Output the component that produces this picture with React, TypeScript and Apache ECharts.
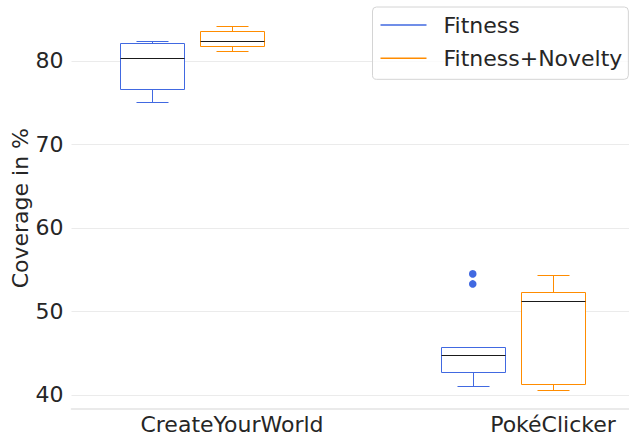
import React, { useEffect, useRef } from "react";
import * as echarts from "echarts";

const categories = ["CreateYourWorld", "PokéClicker"];
const seriesNames = ["Fitness", "Fitness+Novelty"];
// [lowerWhisker, Q1, median, Q3, upperWhisker] per category
const fitnessStats = [
  [75.1, 76.65, 80.3, 82.1, 82.36],
  [41.1, 42.8, 44.8, 45.8, 45.8],
];
const noveltyStats = [
  [81.2, 81.8, 82.4, 83.6, 84.2],
  [40.55, 41.35, 51.2, 52.3, 54.4],
];
const fitnessOutliers = [[], [54.5, 53.3]];
const noveltyOutliers: number[][] = [[], []];
const yTicks = [40, 50, 60, 70, 80];

const COLORS = ["#4169E1", "#FF8C00"];
const HUE_OFFSET = [-0.25, 0];
const BOX_WIDTH = 0.2;
const FONT = "DejaVu Sans";
const TEXT = "#262626";
const FS = 22;

const px = (v: number) => Math.round(v) + 0.5;

function makeBoxRender(hue: number) {
  return (params: any, api: any) => {
    const cat = api.value(0);
    const band = api.size([1, 0])[0];
    const cx = api.coord([cat, 0])[0] + HUE_OFFSET[hue] * band;
    const half = (BOX_WIDTH * band) / 2;
    const capHalf = half / 2;
    const ys = [1, 2, 3, 4, 5].map((i) => px(api.coord([cat, api.value(i)])[1]));
    const color = COLORS[hue];
    const l = px(cx - half);
    const r = px(cx + half);
    const c = px(cx);
    const ls = { stroke: color, lineWidth: 1, fill: "none" };
    return {
      type: "group",
      children: [
        { type: "line", shape: { x1: c, y1: ys[3], x2: c, y2: ys[4] }, style: ls },
        { type: "line", shape: { x1: c, y1: ys[1], x2: c, y2: ys[0] }, style: ls },
        { type: "line", shape: { x1: px(cx - capHalf), y1: ys[4], x2: px(cx + capHalf), y2: ys[4] }, style: ls },
        { type: "line", shape: { x1: px(cx - capHalf), y1: ys[0], x2: px(cx + capHalf), y2: ys[0] }, style: ls },
        { type: "rect", shape: { x: l, y: ys[3], width: r - l, height: ys[1] - ys[3] }, style: { ...ls, fill: "#fff" } },
        { type: "line", shape: { x1: l, y1: ys[2], x2: r, y2: ys[2] }, style: { stroke: "#1a1a1a", lineWidth: 1 } },
      ],
    };
  };
}

function outlierRender(params: any, api: any) {
  const cat = api.value(0);
  const hue = api.value(2);
  const band = api.size([1, 0])[0];
  const cx = api.coord([cat, 0])[0] + HUE_OFFSET[hue] * band;
  const cy = api.coord([cat, api.value(1)])[1];
  return { type: "circle", shape: { cx, cy, r: 3.8 }, style: { fill: COLORS[hue], stroke: "none" } };
}

export default function App() {
  const ref = useRef<HTMLDivElement>(null);
  useEffect(() => {
    if (!ref.current) return;
    const chart = echarts.init(ref.current, null, { renderer: "svg" });
    const boxData = (stats: number[][]) => stats.map((s, i) => [i, ...s]);
    const outData: number[][] = [];
    [fitnessOutliers, noveltyOutliers].forEach((arr, hue) =>
      arr.forEach((vals, cat) => vals.forEach((v) => outData.push([cat, v, hue])))
    );
    chart.setOption({
      animation: false,
      backgroundColor: "#fff",
      grid: { left: 71.5, width: 642, top: 7.7, height: 400.9, containLabel: false, outerBoundsMode: "none" },
      xAxis: {
        type: "category",
        data: categories,
        axisTick: { show: false },
        axisLine: { lineStyle: { color: "#e3e3e3", width: 1.6 } },
        axisLabel: { fontSize: FS, color: TEXT, fontFamily: FONT, margin: 5 },
        splitLine: { show: false },
      },
      yAxis: {
        type: "value",
        min: 38.37,
        max: 86.38,
        name: "Coverage in %",
        nameLocation: "middle",
        nameGap: 40,
        nameMoveOverlap: false,
        nameTextStyle: { fontSize: FS, color: TEXT, fontFamily: FONT },
        axisLine: { show: false },
        axisTick: { show: false },
        axisLabel: {
          fontSize: FS,
          color: TEXT,
          fontFamily: FONT,
          margin: 8,
          showMinLabel: false,
          showMaxLabel: false,
          formatter: (v: number) => (yTicks.includes(Math.round(v)) && Math.abs(v - Math.round(v)) < 1e-6 ? String(Math.round(v)) : ""),
        },
        splitLine: { show: true, showMinLine: false, showMaxLine: false, lineStyle: { color: "#ebebeb", width: 1 } },
      },
      legend: {
        orient: "vertical",
        left: 372.5,
        top: 7,
        padding: [7, 6, 10, 8],
        itemWidth: 46,
        itemHeight: 1.5,
        itemGap: 11.3,
        borderColor: "#d4d4d4",
        borderWidth: 1,
        borderRadius: 4,
        backgroundColor: "rgba(255,255,255,0.8)",
        textStyle: { fontSize: FS, color: TEXT, fontFamily: FONT, padding: [0, 0, 0, 12] },
        data: seriesNames.map((n) => ({ name: n, icon: "rect" })),
      },
      series: [
        {
          type: "custom",
          name: seriesNames[0],
          itemStyle: { color: COLORS[0] },
          renderItem: makeBoxRender(0),
          encode: { x: 0, y: [1, 2, 3, 4, 5] },
          data: boxData(fitnessStats),
        },
        {
          type: "custom",
          name: seriesNames[1],
          itemStyle: { color: COLORS[1] },
          renderItem: makeBoxRender(1),
          encode: { x: 0, y: [1, 2, 3, 4, 5] },
          data: boxData(noveltyStats),
        },
        {
          type: "custom",
          name: "outliers",
          renderItem: outlierRender,
          encode: { x: 0, y: 1 },
          data: outData,
        },
      ],
    });
    return () => chart.dispose();
  }, []);
  return <div ref={ref} style={{ position: "fixed", left: 0, top: 0, width: 629, height: 436 }} />;
}
